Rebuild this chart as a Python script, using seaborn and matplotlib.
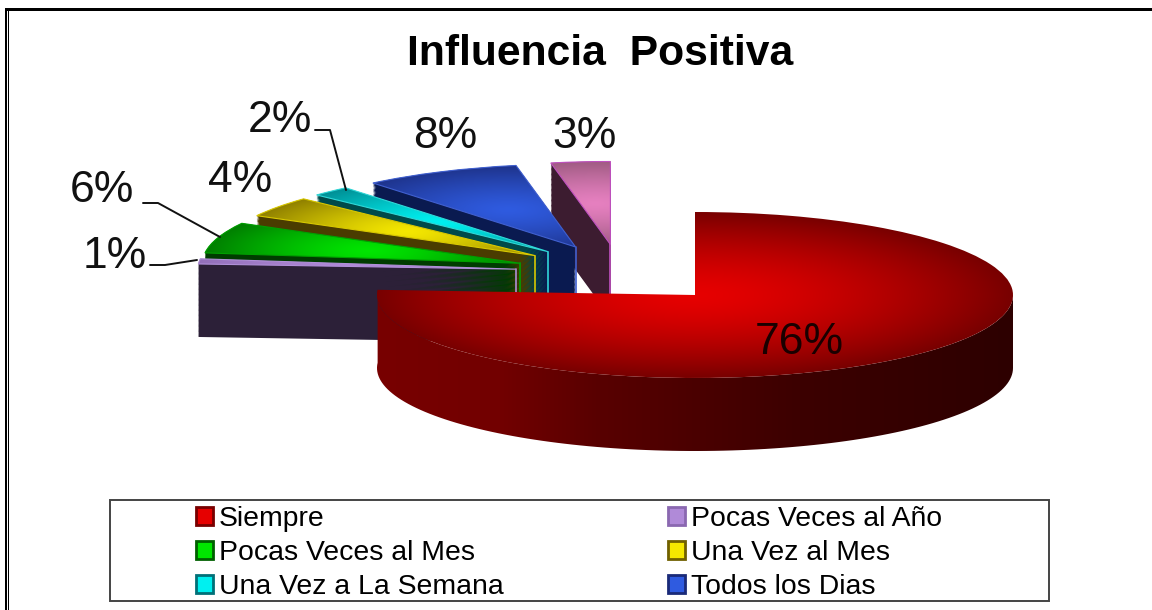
import numpy as np
import matplotlib
matplotlib.use("Agg")
import matplotlib.pyplot as plt
from matplotlib.patches import Patch, Polygon, Rectangle
import seaborn as sns

# datos del grafico
categorias = ["Siempre", "Pocas Veces al Año", "Pocas Veces al Mes",
              "Una Vez al Mes", "Una Vez a La Semana", "Todos los Dias"]
valores = [76, 1, 6, 4, 2, 8, 3]
titulo = "Influencia  Positiva"

claro = ["#e60000", "#b08ad8", "#00e600", "#f5e800", "#00f0f0", "#2f5be0", "#e680c0"]
oscuro = ["#780000", "#8a68b0", "#006000", "#706000", "#007078", "#1a2a78", "#8a5070"]
lateral = ["#600000", "#2c2038", "#003c00", "#4a3c00", "#004a4a", "#0a1a50", "#3c1c30"]
borde = ["#a00000", "#b090d8", "#00a000", "#d8c800", "#30d8d8", "#4060d0", "#c050c0"]

# posicion de las etiquetas en pixeles (centro del texto)
etiq_x = [799, 115, 102, 240, 280, 445, 585]
etiq_y = [342, 257, 191, 181, 121, 136, 137]

W, H = 1152, 610
CX, CY = 695, 295   # centro de la torta en pixeles
RX, RY = 318, 83    # radios de la elipse
PROF = 73 / RY      # altura del cilindro

sns.set_theme(style="white")
plt.rcParams["font.family"] = ["Liberation Sans", "DejaVu Sans"]
paleta = sns.color_palette(claro)

fig = plt.figure(figsize=(W / 100, H / 100), dpi=100)
ax = fig.add_axes([0, 0, 1, 1])

explode = [0 if v == max(valores) else 0.33 for v in valores]
wedges, _ = ax.pie(valores, explode=explode, startangle=90, counterclock=False,
                   colors=paleta, normalize=True)
ax.set_aspect("auto")
limx = ((0 - CX) / RX, (W - CX) / RX)
limy = ((CY - H) / RY, CY / RY)
ax.set_xlim(limx)
ax.set_ylim(limy)
ax.axis("off")


def px(x, y):
    return (x - CX) / RX, (CY - y) / RY


X, Y = np.meshgrid(np.linspace(*limx, W // 2), np.linspace(*limy, H // 2))
rgb = matplotlib.colors.to_rgb


def degradado(centro, c1, c2, escala, clip, z, exp=1.0):
    r = np.hypot(X - centro[0], Y - centro[1]) / escala
    t = np.clip(r, 0, 1)[..., None] ** exp
    img = np.array(rgb(c1)) * (1 - t) + np.array(rgb(c2)) * t
    im = ax.imshow(img, extent=[*limx, *limy], origin="lower", aspect="auto",
                   zorder=z, interpolation="bilinear")
    im.set_clip_path(clip)


# el grupo de porciones separadas se corre arriba a la izquierda
corrimiento = np.array([-0.235, 0.28])
z = 2
for i in [6, 5, 4, 3, 2, 1, 0]:
    w = wedges[i]
    if i > 0:
        w.set_center(tuple(np.array(w.center) + corrimiento))
    cen = np.array(w.center)
    th = np.radians(np.linspace(w.theta1, w.theta2, 80))
    arco = cen + np.column_stack([np.cos(th), np.sin(th)])
    medio = np.radians((w.theta1 + w.theta2) / 2)
    dir_medio = np.array([np.cos(medio), np.sin(medio)])
    if i == 0:
        # pared exterior visible de la porcion grande
        th2 = np.radians(np.linspace(w.theta1, 0, 120))
        a = cen + np.column_stack([np.cos(th2), np.sin(th2)])
        pared = np.vstack([a, (a - [0, PROF])[::-1]])
        pol = Polygon(pared, closed=True, facecolor="none", edgecolor="none", zorder=z)
        ax.add_patch(pol)
        xs = np.array([376, 500, 600, 800, 1013])
        rojos = np.array([120, 114, 88, 60, 45]) / 255
        r = np.interp(X, (xs - CX) / RX, rojos)
        img = np.dstack([r, np.zeros_like(r), np.zeros_like(r)])
        im = ax.imshow(img, extent=[*limx, *limy], origin="lower", aspect="auto", zorder=z)
        im.set_clip_path(pol)
        z += 1
    else:
        # lateral: copias de la porcion bajando hasta la base
        verts = np.vstack([cen, arco])
        for k in np.linspace(PROF, 0, 60):
            ax.add_patch(Polygon(verts - [0, k], closed=True, facecolor=lateral[i],
                                 edgecolor="none", zorder=z))
        ax.plot([cen[0], cen[0]], [cen[1], cen[1] - PROF], color=borde[i], lw=1.2,
                zorder=z + 0.5)
        z += 1
    if i == 0:
        degradado(cen, claro[i], oscuro[i], 1.0, w, z, exp=1.5)
    else:
        degradado(cen + 0.5 * dir_medio, claro[i], oscuro[i], 0.62, w, z, exp=1.3)
    w.set_facecolor("none")
    w.set_edgecolor(borde[i] if i > 0 else "none")
    w.set_linewidth(0.8)
    w.set_zorder(z + 0.5)
    z += 1

# lineas guia de 1%, 6% y 2%
guias = [[(150, 265), (165, 265), (197, 260)],
         [(143, 203), (158, 203), (220, 237)],
         [(315, 130), (330, 130), (346, 190)]]
for g in guias:
    pts = np.array([px(*p) for p in g])
    ax.plot(pts[:, 0], pts[:, 1], color="#111111", lw=1.4, zorder=z)

for i, v in enumerate(valores):
    x, y = px(etiq_x[i], etiq_y[i])
    ax.text(x, y, f"{v}%", fontsize=32, color="#1a0000" if i == 0 else "#111111",
            ha="center", va="center", zorder=z + 1)

fig.text(600 / W, 1 - 54 / H, titulo, fontsize=30.7, fontweight="bold",
         color="black", ha="center", va="center")

# recuadro de la leyenda
fig.add_artist(Rectangle((110 / W, 1 - 601 / H), 939 / W, 101 / H, transform=fig.transFigure,
                         facecolor="white", edgecolor="#444444", lw=1.4))
handles = [Patch(facecolor=claro[i], edgecolor=oscuro[i], lw=2) for i in range(6)]
# orden por filas: matplotlib llena por columnas
orden = [0, 2, 4, 1, 3, 5]
leg = fig.legend([handles[i] for i in orden], [categorias[i] for i in orden], ncol=2,
                 loc="upper left", bbox_to_anchor=(187 / W, 1 - 497 / H), frameon=False,
                 fontsize=20.4, labelcolor="black", handlelength=0.6, handleheight=0.6,
                 handletextpad=0.22, columnspacing=5.8, labelspacing=0.29, borderpad=0.3,
                 borderaxespad=0)
leg.set_zorder(10)

# marco de la imagen: linea superior gruesa y doble linea a la izquierda
for (x0, y0, x1, y1) in [(5, 8, W, 11), (5, 8, 7, H), (8, 8, 9.4, H)]:
    fig.add_artist(Rectangle((x0 / W, 1 - y1 / H), (x1 - x0) / W, (y1 - y0) / H,
                             transform=fig.transFigure, facecolor="black", edgecolor="none"))

fig.savefig("out.png", dpi=100, facecolor="white")
